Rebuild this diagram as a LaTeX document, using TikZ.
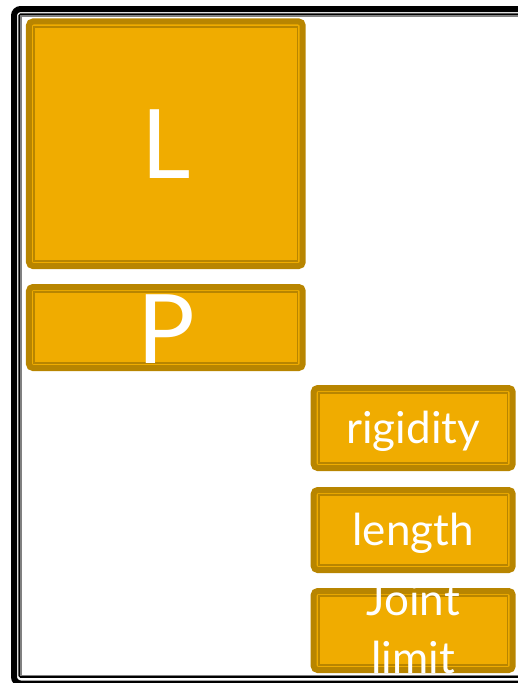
\documentclass[tikz,border=0pt]{standalone}
\usepackage{fontspec}
\setmainfont{Lato}
\definecolor{boxfill}{HTML}{F0AC00}
\definecolor{boxline}{HTML}{B88500}
\tikzset{
  box/.style={rectangle, draw=boxline, fill=boxfill, line width=4.5pt,
    rounded corners=3pt, outer sep=0pt, inner sep=0pt},
  wide/.style={minimum width=205.3pt},
  narrow/.style={minimum width=149.25pt},
  inner/.style={draw=boxline, line width=1.3pt},
  bigtext/.style={text=white, inner sep=0pt, anchor=base, font=\fontsize{72}{86}\selectfont},
  smalltext/.style={text=white, inner sep=0pt, anchor=base, align=center, font=\fontsize{33}{43.5}\selectfont},
}
\newcommand{\innerframe}[1]{\draw[inner] ([shift={(5.3,5.3)}]#1.north west) rectangle ([shift={(-5.3,-5.3)}]#1.south east);}
\begin{document}
\begin{tikzpicture}[x=0.75pt,y=-0.75pt]
\useasboundingbox (0,0) rectangle (518,683);
\begin{scope}
\clip (0,0) rectangle (518,683);
\draw[line width=4.5pt, rounded corners=5pt] (14,9) rectangle (528,683.5);
\draw[line width=1.3pt, rounded corners=1pt] (19.2,14.3) rectangle (522,677);
\draw[gray, line width=0.8pt] (21,16) rectangle (520,675.3);
\end{scope}
% boxes
\node[box, wide, minimum height=183.4pt] (L) at (165.85,143.75) {};
\node[box, wide, minimum height=60.75pt] (P) at (165.85,327.5) {};
\node[box, narrow, minimum height=60pt] (R) at (413.2,428) {};
\node[box, narrow, minimum height=60pt] (Le) at (413.2,530) {};
\node[box, narrow, minimum height=59.25pt] (J) at (413.2,630.5) {};
\innerframe{L}
\innerframe{P}
\innerframe{R}
\innerframe{Le}
\innerframe{J}
% texts
\node[bigtext] (Lt) at ([shift={(0,35)}]L.center) {L};
\node[bigtext] (Pt) at ([shift={(0,35.5)}]P.center) {P};
\node[smalltext] (Rt) at ([shift={(0,15)}]R.center) {rigidity};
\node[smalltext] (Let) at ([shift={(0,15)}]Le.center) {length};
\node[smalltext] (Jt) at ([shift={(0,42.5)}]J.center) {Joint\\limit};
\end{tikzpicture}
\end{document}
